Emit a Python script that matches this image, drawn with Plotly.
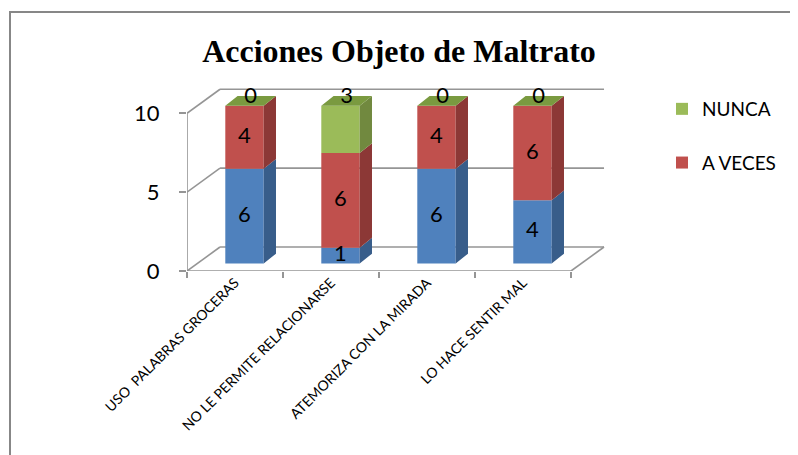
import plotly.graph_objects as go

# ---------------- data ----------------
categories = ["USO\u00a0 PALABRAS GROCERAS", "NO LE PERMITE RELACIONARSE",
              "ATEMORIZA CON LA MIRADA", "LO HACE SENTIR MAL"]
siempre = [6, 1, 6, 4]
a_veces = [4, 6, 4, 6]
nunca = [0, 3, 0, 0]
y_ticks = [0, 5, 10]

# ---------------- style / geometry ----------------
FONT = "Lato"
GRID = "#959595"
W, H = 790, 447            # page body has an 8px margin
ML, MR, MT, MB = 179, 192, 80, 184
X0, X1 = -0.5, -0.5 + (W - ML - MR) / 96.0
Y0, Y1 = 0, 11.6
DX, DY = 0.344, 1.52        # wall depth (data units)
FX, FY = 0.099, 0.48        # bar front-face offset into depth
BW = 0.40                   # bar width
SDX, SDY = 0.128, 0.62      # bar depth

series = [
    ("SIEMPRE", siempre, "#4f81bd", "#385d8a", False, 3),
    ("A VECES", a_veces, "#c0504d", "#8c3836", True, 2),
    ("NUNCA", nunca, "#9bbb59", "#71893f", True, 1),
]

xs = list(range(len(categories)))
fig = go.Figure()

cum = [0] * len(xs)
side_traces = []
label_x, label_y, label_t = [], [], []
for name, vals, col, side, show, rank in series:
    base = [c + FY for c in cum]
    fig.add_trace(go.Bar(
        x=[x + FX for x in xs], y=vals, base=base, width=BW,
        marker=dict(color=col, line=dict(width=0)),
        name=name, showlegend=show, legendgroup=name, legendrank=rank,
        hoverinfo="skip"))
    px, py = [], []
    for i, v in enumerate(vals):
        if v <= 0:
            continue
        xr = xs[i] + FX + BW / 2
        b = base[i]
        px += [xr, xr + SDX, xr + SDX, xr, xr, None]
        py += [b, b + SDY, b + v + SDY, b + v, b, None]
    side_traces.append(go.Scatter(x=px, y=py, mode="lines", fill="toself",
                                  fillcolor=side, line=dict(width=0),
                                  showlegend=False, hoverinfo="skip"))
    if name != "NUNCA":
        for i, v in enumerate(vals):
            label_x.append(xs[i] + FX)
            label_y.append(base[i] + v / 2)
            label_t.append(str(v))
    cum = [c + v for c, v in zip(cum, vals)]

for t in side_traces:
    fig.add_trace(t)

# top faces (top segment is NUNCA)
tx, ty = [], []
for i, tot in enumerate(cum):
    xl = xs[i] + FX - BW / 2
    xr = xs[i] + FX + BW / 2
    T = tot + FY
    tx += [xl, xr, xr + SDX, xl + SDX, xl, None]
    ty += [T, T, T + SDY, T + SDY, T, None]
fig.add_trace(go.Scatter(x=tx, y=ty, mode="lines", fill="toself",
                         fillcolor="#7a9a40", line=dict(width=0),
                         showlegend=False, hoverinfo="skip"))

# NUNCA labels sit on the top face
for i, v in enumerate(nunca):
    label_x.append(xs[i] + FX + SDX / 2)
    label_y.append(cum[i] + FY + SDY / 2 + 0.2)
    label_t.append(str(v))

fig.add_trace(go.Scatter(x=label_x, y=label_y, text=label_t, mode="text",
                         textposition="middle center",
                         textfont=dict(family=FONT, size=22, color="#000000"),
                         showlegend=False, hoverinfo="skip", cliponaxis=False))

# ---------------- 3D walls as shapes (below traces) ----------------
shapes = []
def seg(xa, ya, xb, yb):
    shapes.append(dict(type="line", xref="x", yref="y", x0=xa, y0=ya, x1=xb, y1=yb,
                       line=dict(color=GRID, width=1.6), layer="below"))

xl_axis = xs[0] - 0.5
xr_axis = xs[-1] + 0.5
for v in y_ticks:
    seg(xl_axis, v, xl_axis + DX, v + DY)
    seg(xl_axis + DX, v + DY, xr_axis + DX, v + DY)
seg(xr_axis, 0, xr_axis + DX, DY)
seg(xl_axis, 0, xr_axis, 0)
seg(xl_axis, 0, xl_axis, max(y_ticks))

# outer chart border
pw = W - ML - MR
ph = H - MT - MB
def pxx(p): return (p - ML) / pw
def pyy(p): return (H - MB - p) / ph
shapes.append(dict(type="rect", xref="paper", yref="paper",
                   x0=pxx(2), x1=pxx(W + 5), y0=pyy(4), y1=pyy(H + 5),
                   line=dict(color="#878787", width=2), layer="below"))

fig.update_layout(
    width=W, height=H,
    margin=dict(l=ML, r=MR, t=MT, b=MB),
    paper_bgcolor="white", plot_bgcolor="rgba(0,0,0,0)",
    barmode="overlay",
    shapes=shapes,
    title=dict(text="<b>Acciones Objeto de Maltrato</b>",
               font=dict(family="Liberation Serif", size=32, color="#000000"),
               x=391 / W, xanchor="center", xref="container",
               y=1 - 43 / H, yanchor="middle", yref="container"),
    xaxis=dict(range=[X0, X1], tickmode="array", tickvals=xs, ticktext=categories,
               tickangle=-45, ticks="", showgrid=False, zeroline=False, showline=False,
               tickfont=dict(family=FONT, size=14, color="#000000"),
               minor=dict(tickmode="array", tickvals=[x - 0.5 for x in xs] + [xs[-1] + 0.5],
                          ticks="outside", ticklen=6, tickwidth=1.6, tickcolor=GRID,
                          showgrid=False)),
    yaxis=dict(range=[Y0, Y1], tickmode="array", tickvals=y_ticks,
               ticks="outside", ticklen=7, tickwidth=1.6, tickcolor=GRID,
               showgrid=False, zeroline=False, showline=False,
               ticklabelstandoff=15,
               tickfont=dict(family=FONT, size=22, color="#000000")),
    legend=dict(xref="container", yref="container", x=654 / W, y=1 - 82 / H,
                xanchor="left", yanchor="top", traceorder="grouped",
                tracegroupgap=26, font=dict(family=FONT, size=19, color="#000000"),
                bgcolor="rgba(0,0,0,0)"),
    showlegend=True,
)

fig.write_html("out.html")
